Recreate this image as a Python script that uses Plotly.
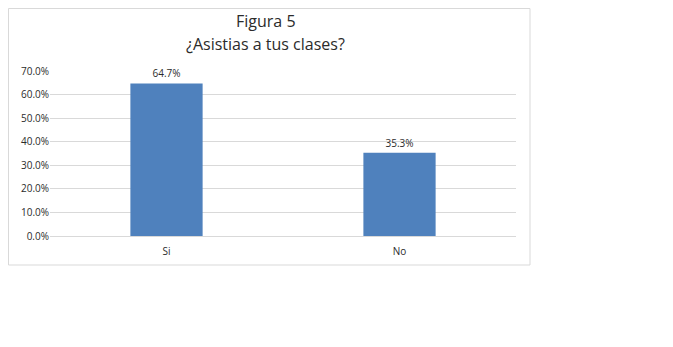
import plotly.graph_objects as go

categories = ["Si", "No"]
values = [0.647, 0.353]
y_ticks = [0, 0.1, 0.2, 0.3, 0.4, 0.5, 0.6, 0.7]
title_lines = ["Figura 5", "¿Asistias a tus clases?"]

OFF = 8  # page body margin
W, H = 673 - OFF, 347 - OFF
L, R, T, B = 50 - OFF, 516 - OFF, 71 - OFF, 236 - OFF

def px(x):
    return (x - OFF - L) / (R - L)

def py(y):
    return (B - (y - OFF)) / (B - T)

TXT = "#2b2b2b"

fig = go.Figure()
fig.add_trace(go.Bar(
    x=categories, y=values, width=0.31,
    marker=dict(color="#4f81bd", line=dict(width=0)),
    text=[f"{v*100:.1f}%" for v in values],
    textposition="outside",
    textfont=dict(family="Open Sans", size=10, color=TXT),
    cliponaxis=False,
))

fig.update_layout(
    width=W, height=H,
    margin=dict(l=L, r=W - R, t=T, b=H - B),
    paper_bgcolor="white", plot_bgcolor="white",
    showlegend=False,
    font=dict(family="Open Sans", color=TXT),
    xaxis=dict(showgrid=False, showline=True, linecolor="#d9d9d9", linewidth=1,
               ticks="", tickfont=dict(size=10, color=TXT), ticklabelstandoff=6,
               fixedrange=True),
    yaxis=dict(range=[0, 0.7], tickvals=y_ticks, tickformat=".1%",
               showgrid=True, gridcolor="#d9d9d9", gridwidth=1,
               zeroline=False, showline=False, ticks="",
               tickfont=dict(size=10, color=TXT), fixedrange=True),
    shapes=[dict(type="rect", xref="paper", yref="paper",
                 x0=px(OFF + 0.5), x1=px(530), y0=py(265), y1=py(OFF + 0.5),
                 line=dict(color="#d9d9d9", width=1), fillcolor="rgba(0,0,0,0)",
                 layer="below")],
    annotations=[
        dict(text=title_lines[0], xref="paper", yref="paper", x=px(265.5), y=py(21),
             showarrow=False, font=dict(size=16, color=TXT), xanchor="center", yanchor="middle"),
        dict(text=title_lines[1], xref="paper", yref="paper", x=px(265.5), y=py(44),
             showarrow=False, font=dict(size=16, color=TXT), xanchor="center", yanchor="middle"),
    ],
)

fig.write_html("out.html")
